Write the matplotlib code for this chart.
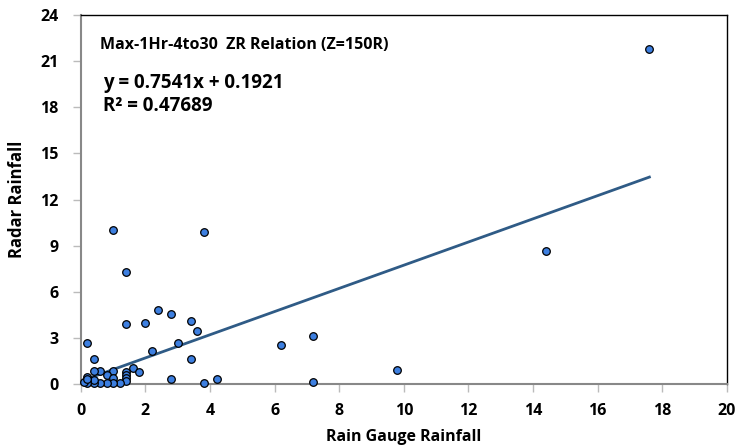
import numpy as np
import matplotlib.pyplot as plt

plt.rcParams['font.family'] = ['Open Sans', 'DejaVu Sans']

# gauge vs radar rainfall
gauge = [17.6, 14.4, 9.8, 7.2, 7.2, 6.2, 4.2, 3.8, 3.8, 1.0, 1.4,
         2.4, 2.8, 3.4, 3.6, 2.0, 1.4, 3.0, 2.2, 3.4, 2.8,
         0.2, 0.4, 1.6, 1.8, 1.4, 1.4, 1.4, 1.4,
         1.0, 0.8, 0.6, 0.4, 1.0, 1.2, 1.0, 0.8, 0.6, 0.4,
         0.4, 0.2, 0.2, 0.2, 0.1, 0.2]
radar = [21.8, 8.65, 0.9, 3.1, 0.1, 2.55, 0.3, 9.9, 0.05, 10.0, 7.3,
         4.8, 4.57, 4.07, 3.42, 3.96, 3.88, 2.64, 2.16, 1.62, 0.32,
         2.7, 1.6, 1.02, 0.76, 0.76, 0.57, 0.39, 0.21,
         0.86, 0.6, 0.86, 0.86, 0.37, 0.06, 0.04, 0.04, 0.04, 0.04,
         0.28, 0.43, 0.2, 0.04, 0.1, 0.3]

slope = 0.7541
intercept = 0.1921

fig = plt.figure(figsize=(7.35, 4.45), dpi=100)
ax = fig.add_axes([0.110, 0.137, 0.879, 0.829])

xl = np.array([min(gauge), max(gauge)])
ax.plot(xl, slope * xl + intercept, color='#2f5b86', lw=2, zorder=2)
ax.scatter(gauge, radar, s=30, c='#3d7fe0', edgecolors='black', linewidths=0.9,
           zorder=3, clip_on=False)

ax.set_xlim(0, 20)
ax.set_ylim(0, 24)
ax.set_xticks(range(0, 21, 2))
ax.set_yticks(range(0, 25, 3))

for s in ['left', 'bottom']:
    ax.spines[s].set_color('#888888')
    ax.spines[s].set_linewidth(1.5)
for s in ['top', 'right']:
    ax.spines[s].set_color('black')
    ax.spines[s].set_linewidth(1)
ax.tick_params(axis='both', length=6, width=1, color='#bbbbbb', labelsize=11.5)
ax.tick_params(axis='y', pad=10)
ax.tick_params(axis='x', pad=8)
for lab in ax.get_xticklabels() + ax.get_yticklabels():
    lab.set_fontweight('bold')

ax.set_xlabel('Rain Gauge Rainfall', fontsize=11.5, fontweight='bold', labelpad=7)
ax.set_ylabel('Radar Rainfall', fontsize=12, fontweight='bold', labelpad=10)

ax.text(0.029, 0.92, 'Max-1Hr-4to30  ZR Relation (Z=150R)', transform=ax.transAxes,
        fontsize=11.5, fontweight='bold', va='center')
ax.text(0.034, 0.816, 'y = 0.7541x + 0.1921', transform=ax.transAxes,
        fontsize=13.5, fontweight='bold', va='center')
ax.text(0.034, 0.753, 'R² = 0.47689', transform=ax.transAxes,
        fontsize=13.5, fontweight='bold', va='center')

fig.savefig('out.png', dpi=100)
